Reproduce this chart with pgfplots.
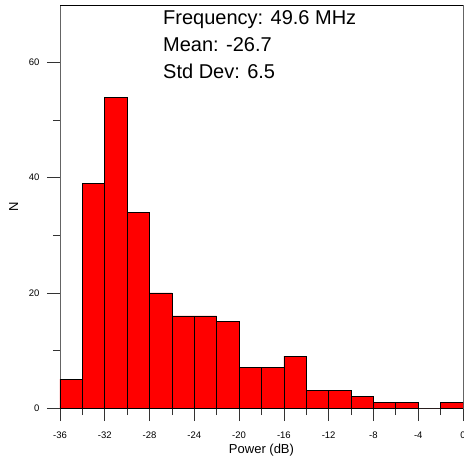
\documentclass[border=0pt]{standalone}
\usepackage{pgfplots}
\pgfplotsset{compat=1.18}
\usepackage{fontspec}
\setmainfont{Liberation Sans}
\definecolor{axgray}{RGB}{100,100,100}
\begin{document}
\begin{tikzpicture}
\begin{axis}[
  at={(0,0)}, anchor=south west,
  scale only axis, width=403bp, height=403bp,
  xmin=-36, xmax=0, ymin=0, ymax=70,
  axis line style={axgray, line width=0.8pt},
  xtick={-36,-32,...,0},
  xticklabels={-36,-32,-28,-24,-20,-16,-12,-8,-4,0},
  minor x tick num=1,
  ytick={0,20,40,60},
  minor y tick num=1,
  tick pos=left,
  tick align=outside,
  major tick length=13bp,
  minor tick length=7bp,
  tick style={black!80, line width=0.7pt},
  /pgf/number format/assume math mode=true,
  ticklabel style={font=\fontsize{9.5bp}{11bp}\selectfont},
  xticklabel style={yshift=-7bp},
  yticklabel style={xshift=-4bp},
  xlabel={Power (dB)},
  ylabel={N},
  label style={font=\fontsize{13bp}{15bp}\selectfont},
  xlabel style={yshift=1bp},
  ylabel style={yshift=4bp},
]
\addplot[ybar interval, fill=red, draw=black, line width=0.7pt] coordinates {
(-36,5) (-34,39) (-32,54) (-30,34) (-28,20) (-26,16) (-24,16) (-22,15)
(-20,7) (-18,7) (-16,9) (-14,3) (-12,3) (-10,2) (-8,1) (-6,1) (-4,0) (-2,1) (0,1)
};
\end{axis}
\draw[black, line width=0.8pt] (0,403bp) -- (403bp,403bp);
\node[anchor=north west, inner sep=0pt, align=left, font=\fontsize{20bp}{27bp}\selectfont] at (103bp,398bp)
  {Frequency: 49.6 MHz\\Mean: -26.7\\Std Dev: 6.5};
\pgfresetboundingbox
\path[use as bounding box] (-60bp,-53bp) rectangle (404bp,408bp);
\end{tikzpicture}
\end{document}
